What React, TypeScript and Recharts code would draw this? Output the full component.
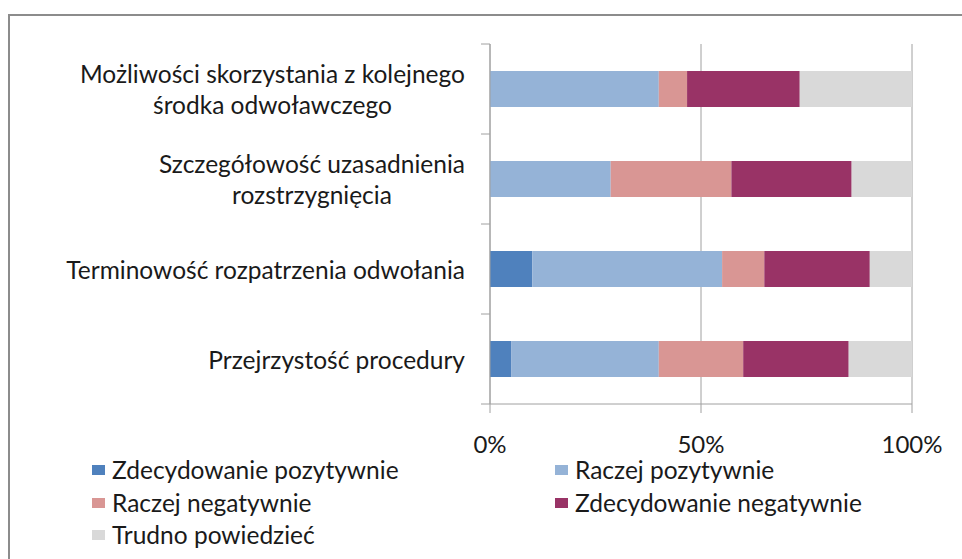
import React from "react";
import { BarChart, Bar, XAxis, YAxis, CartesianGrid, Legend } from "recharts";

const categories = [
  "Możliwości skorzystania z kolejnego\nśrodka odwoławczego",
  "Szczegółowość uzasadnienia\nrozstrzygnięcia",
  "Terminowość rozpatrzenia odwołania",
  "Przejrzystość procedury",
];

const seriesNames = [
  "Zdecydowanie pozytywnie",
  "Raczej pozytywnie",
  "Raczej negatywnie",
  "Zdecydowanie negatywnie",
  "Trudno powiedzieć",
];

const zdecydowaniePozytywnie = [0, 0, 10, 5];
const raczejPozytywnie = [40, 28.6, 45, 35];
const raczejNegatywnie = [6.7, 28.6, 10, 20];
const zdecydowanieNegatywnie = [26.7, 28.5, 25, 25];
const trudnoPowiedziec = [26.6, 14.3, 10, 15];

const xTicks = [0, 0.5, 1];

const colors = ["#4F81BD", "#95B3D7", "#D99694", "#993366", "#D9D9D9"];

const seriesValues = [
  zdecydowaniePozytywnie,
  raczejPozytywnie,
  raczejNegatywnie,
  zdecydowanieNegatywnie,
  trudnoPowiedziec,
];

const data = categories.map((name, i) => {
  const row: Record<string, string | number> = { name };
  seriesValues.forEach((vals, s) => {
    row[`s${s}`] = vals[i];
  });
  return row;
});

const W = 962;
const H = 559;
const Y_W = 490;
const X_H = 40;
const M = { top: 44, right: 50, bottom: 115, left: 0 };
const PLOT_LEFT = M.left + Y_W;
const BAND = (H - M.top - M.bottom - X_H) / categories.length;
const FONT = "Lato, 'Open Sans', sans-serif";
const FS = 24.5;
const AXIS = "#a0a0a0";
const TEXT = "#1a1a1a";

const CategoryTick = (props: any) => {
  const { y, payload, index } = props;
  const last = index === categories.length - 1;
  return (
    <g>
      <line x1={PLOT_LEFT - 9} x2={PLOT_LEFT} y1={y - BAND / 2} y2={y - BAND / 2} stroke={AXIS} />
      {last && (
        <line x1={PLOT_LEFT - 9} x2={PLOT_LEFT} y1={y + BAND / 2} y2={y + BAND / 2} stroke={AXIS} />
      )}
      <foreignObject x={0} y={y - 40} width={PLOT_LEFT - 25} height={80}>
        <div
          style={{
            height: "100%",
            display: "flex",
            alignItems: "center",
            justifyContent: "flex-end",
          }}
        >
          <div
            style={{
              textAlign: "center",
              whiteSpace: "pre-line",
              fontFamily: FONT,
              fontSize: FS,
              lineHeight: "31px",
              color: TEXT,
            }}
          >
            {payload.value}
          </div>
        </div>
      </foreignObject>
    </g>
  );
};

const LegendGrid = () => (
  <div
    style={{
      display: "grid",
      gridTemplateColumns: "463px 320px",
      gridAutoRows: "32.5px",
      fontFamily: FONT,
      fontSize: FS,
      lineHeight: "26px",
      color: TEXT,
    }}
  >
    {seriesNames.map((n, i) => (
      <div key={n} style={{ display: "flex", alignItems: "center" }}>
        <span
          style={{
            display: "inline-block",
            width: 13,
            height: 10,
            background: colors[i],
            marginRight: 7,
          }}
        />
        <span>{n}</span>
      </div>
    ))}
  </div>
);

export default function App() {
  return (
    <div
      style={{
        position: "fixed",
        left: 0,
        top: 0,
        width: W,
        height: H,
        overflow: "hidden",
        background: "#fff",
      }}
    >
      <div
        style={{
          position: "absolute",
          left: 8,
          top: 14,
          width: 1000,
          height: 700,
          border: "2px solid #8c8c8c",
        }}
      />
      <div style={{ position: "absolute", left: 0, top: 0 }}>
        <BarChart
          width={W}
          height={H}
          data={data}
          layout="vertical"
          stackOffset="expand"
          barCategoryGap="30%"
          margin={M}
        >
          <CartesianGrid horizontal={false} stroke={AXIS} />
          <XAxis
            type="number"
            domain={[0, 1]}
            ticks={xTicks}
            height={X_H}
            tickSize={9}
            tickMargin={23}
            tickFormatter={(v) => `${Math.round(v * 100)}%`}
            axisLine={{ stroke: AXIS }}
            tickLine={{ stroke: AXIS }}
            tick={{ fill: TEXT, fontSize: 24, fontFamily: FONT }}
          />
          <YAxis
            type="category"
            dataKey="name"
            width={Y_W}
            tickLine={false}
            axisLine={{ stroke: AXIS }}
            tick={<CategoryTick />}
            interval={0}
          />
          <Legend
            verticalAlign="middle"
            align="center"
            layout="horizontal"
            wrapperStyle={{ top: 454, left: 92, width: 800 }}
            content={() => <LegendGrid />}
          />
          {seriesNames.map((n, i) => (
            <Bar
              key={n}
              dataKey={`s${i}`}
              name={n}
              stackId="a"
              fill={colors[i]}
              isAnimationActive={false}
            />
          ))}
        </BarChart>
      </div>
    </div>
  );
}
